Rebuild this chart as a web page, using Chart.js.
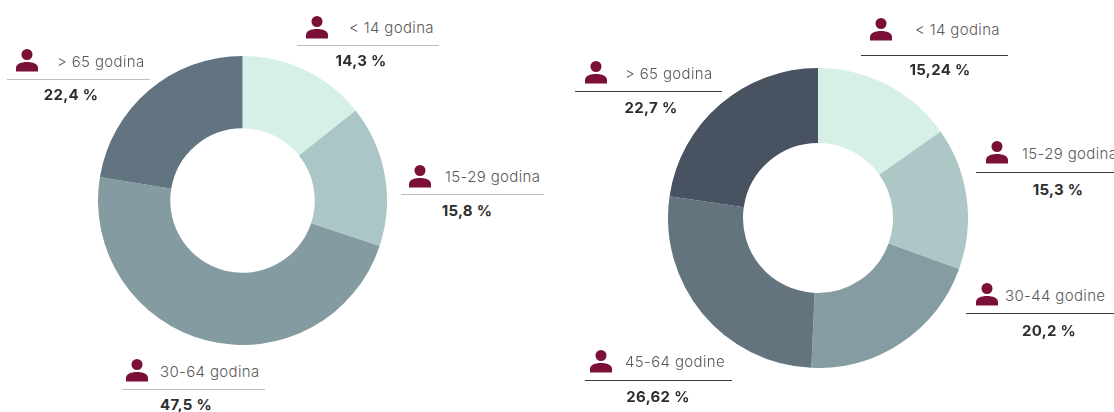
<!DOCTYPE html>
<html>
<head>
<meta charset="utf-8">
<title>Dobna struktura</title>
<script src="https://cdn.jsdelivr.net/npm/chart.js@4/dist/chart.umd.min.js"></script>
<style>
    html, body { margin: 0; padding: 0; background: #fff; }
    #page { position: relative; width: 1114px; height: 412px; overflow: hidden; font-family: Inter, "Noto Sans", sans-serif; }
    .donut { position: absolute; }
    .icon { position: absolute; width: 24px; height: 24px; }
    .name { position: absolute; font-size: 15px; font-weight: 300; letter-spacing: 0.35px; color: #5a5a5a; line-height: 18px; white-space: nowrap; }
    .rule { position: absolute; height: 1px; }
    .value { position: absolute; width: 100px; text-align: center; font-size: 15px; font-weight: 700; letter-spacing: 0.3px; color: #2e2e2e; line-height: 18px; white-space: nowrap; }
</style>
</head>
<body>
<div id="page">
    <div class="donut" style="left:98px;top:56px;width:289px;height:289px"><canvas id="leftChart"></canvas></div>
    <div class="donut" style="left:668px;top:68px;width:300px;height:300px"><canvas id="rightChart"></canvas></div>
</div>
<script>
const leftCategories = ['< 14 godina', '15-29 godina', '30-64 godina', '> 65 godina'];
const leftValues = [14.3, 15.8, 47.5, 22.4];
const leftLabels = ['14,3 %', '15,8 %', '47,5 %', '22,4 %'];
const leftColors = ['#d6f0e7', '#abc6c6', '#849ba1', '#62747f'];

const rightCategories = ['< 14 godina', '15-29 godina', '30-44 godine', '45-64 godine', '> 65 godina'];
const rightValues = [15.24, 15.3, 20.2, 26.62, 22.7];
const rightLabels = ['15,24 %', '15,3 %', '20,2 %', '26,62 %', '22,7 %'];
const rightColors = ['#d6f0e7', '#adc7c7', '#859da2', '#63747f', '#485260'];

// where each caption block sits: icon centre, text left, text centre y, rule span + y, value centre + y
const leftLayout = [
    { ix: 317, iy: 27, tx: 349, ty: 28, r0: 297, r1: 439, ry: 45, vx: 361, vy: 61 },
    { ix: 420, iy: 176, tx: 445, ty: 177, r0: 401, r1: 544, ry: 194, vx: 467, vy: 211 },
    { ix: 137, iy: 370, tx: 160, ty: 372, r0: 122, r1: 265, ry: 389, vx: 186, vy: 405 },
    { ix: 27, iy: 60, tx: 57, ty: 62, r0: 7, r1: 150, ry: 79, vx: 71, vy: 95 }
];
const rightLayout = [
    { ix: 881, iy: 29, tx: 915, ty: 30, r0: 861, r1: 1008, ry: 55, vx: 940, vy: 70 },
    { ix: 997, iy: 152, tx: 1022, ty: 154, r0: 976, r1: 1114, ry: 172, vx: 1058, vy: 190 },
    { ix: 987, iy: 294, tx: 1005, ty: 296, r0: 966, r1: 1114, ry: 313, vx: 1049, vy: 331 },
    { ix: 601, iy: 361, tx: 625, ty: 362, r0: 585, r1: 732, ry: 380, vx: 658, vy: 397 },
    { ix: 596, iy: 72, tx: 625, ty: 74, r0: 575, r1: 722, ry: 91, vx: 651, vy: 108 }
];

const page = document.getElementById('page');

function drawCaptions(categories, labels, layout, ruleColor) {
    categories.forEach((name, i) => {
        const p = layout[i];
        page.insertAdjacentHTML('beforeend', `
            <svg class="icon" style="left:${p.ix - 12}px;top:${p.iy - 12}px" viewBox="0 0 24 24">
                <circle cx="12" cy="6.5" r="5.5" fill="#7a1038"/>
                <path d="M1 23.5 V20 C1 16 6 14 12 14 C18 14 23 16 23 20 V23.5 Z" fill="#7a1038"/>
            </svg>
            <div class="name" style="left:${p.tx}px;top:${p.ty - 9}px"></div>
            <div class="rule" style="left:${p.r0}px;top:${p.ry}px;width:${p.r1 - p.r0}px;background:${ruleColor}"></div>
            <div class="value" style="left:${p.vx - 50}px;top:${p.vy - 9}px">${labels[i]}</div>`);
        // set as text because of the < and > in the names
        const names = page.querySelectorAll('.name');
        names[names.length - 1].textContent = name;
    });
}

function drawDonut(id, categories, values, colors) {
    return new Chart(document.getElementById(id), {
        type: 'doughnut',
        data: {
            labels: categories,
            datasets: [{
                data: values,
                backgroundColor: colors,
                borderWidth: 0
            }]
        },
        options: {
            responsive: true,
            maintainAspectRatio: false,
            animation: false,
            cutout: '50%',
            layout: { padding: 0 },
            plugins: {
                legend: { display: false },
                tooltip: { enabled: false }
            }
        }
    });
}

drawDonut('leftChart', leftCategories, leftValues, leftColors);
drawDonut('rightChart', rightCategories, rightValues, rightColors);
drawCaptions(leftCategories, leftLabels, leftLayout, '#b4c0ca');
drawCaptions(rightCategories, rightLabels, rightLayout, '#3a3a3a');
</script>
</body>
</html>
